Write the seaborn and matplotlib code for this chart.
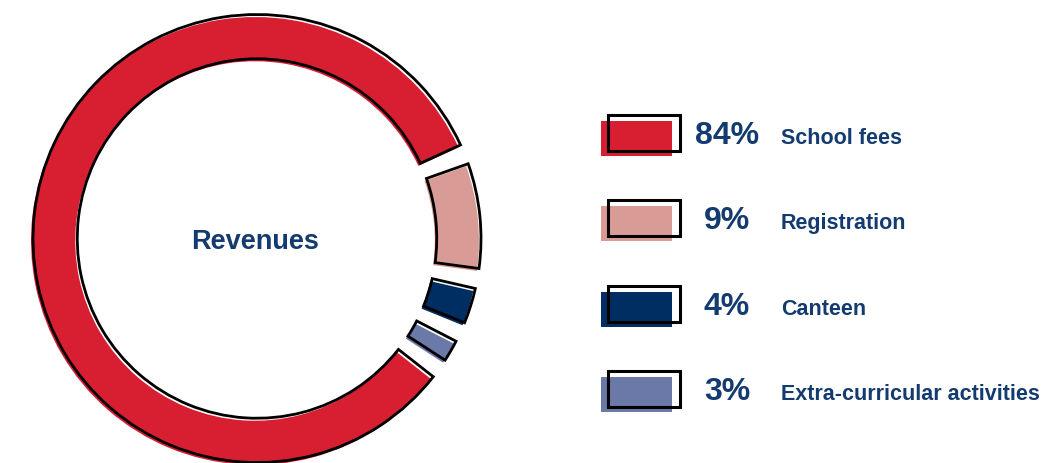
import matplotlib
matplotlib.use("Agg")
import matplotlib.pyplot as plt
import matplotlib.patches as mpatches
import seaborn as sns

labels = ["School fees", "Registration", "Canteen", "Extra-curricular activities"]
shares = [84, 9, 4, 3]
pct_labels = ["84%", "9%", "4%", "3%"]
colors = ["#d81f32", "#d99b96", "#002e63", "#6a79a8"]
center_label = "Revenues"

sns.set_theme(style="white")
plt.rcParams["font.family"] = ["Liberation Sans", "DejaVu Sans"]
TEXT = "#143b6f"

W, H = 1063, 464
fig = plt.figure(figsize=(W / 100, H / 100), dpi=100)

# donut
cx, cy, r = 255, 242, 227
ax = fig.add_axes([(cx - r) / W, 1 - (cy + r) / H, 2 * r / W, 2 * r / H])
px = 1 / r
ring = 0.195
gap = 2.6

fill, _ = ax.pie(shares, colors=colors, startangle=-35.5, counterclock=False,
                 radius=1 - 3 * px, wedgeprops=dict(width=ring, linewidth=0))
outline, _ = ax.pie(shares, startangle=-35.5, counterclock=False,
                    radius=1 - 3 * px, center=(2 * px, 2.5 * px),
                    wedgeprops=dict(width=ring, facecolor="none",
                                    edgecolor="black", linewidth=2.0))
for w in list(fill) + list(outline):
    w.set_theta1(w.theta1 + gap)
    w.set_theta2(w.theta2 - gap)

ax.set_xlim(-1, 1)
ax.set_ylim(-1, 1)
ax.axis("off")
ax.text(0, 0, center_label, ha="center", va="center", fontsize=19.5,
        fontweight="bold", color=TEXT)

# legend
lax = fig.add_axes([0, 0, 1, 1])
lax.set_xlim(0, W)
lax.set_ylim(H, 0)
lax.axis("off")
for i, (lab, pct, col) in enumerate(zip(labels, pct_labels, colors)):
    yc = 134 + 85.3 * i
    lax.add_patch(mpatches.Rectangle((601, yc - 12), 71, 35, color=col, lw=0))
    lax.add_patch(mpatches.Rectangle((607.5, yc - 18), 72.5, 36, fill=False,
                                     ec="black", lw=2.2))
    lax.text(727, yc + 10, pct, ha="center", va="baseline", fontsize=23,
             fontweight="bold", color=TEXT)
    lax.text(781, yc + 10, lab, ha="left", va="baseline", fontsize=15.5,
             fontweight="bold", color=TEXT)

fig.savefig("out.png", dpi=100)
